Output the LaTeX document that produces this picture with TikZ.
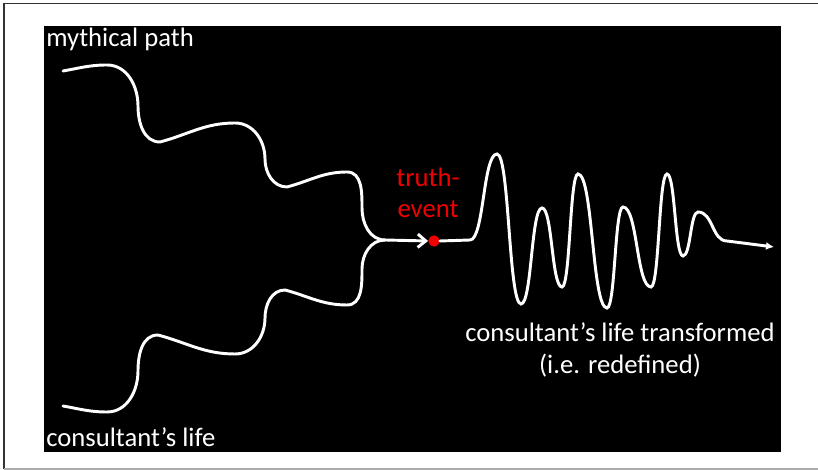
\documentclass[tikz,border=0pt]{standalone}
\usepackage{fontspec}
\setmainfont{Carlito}
\usepackage{tikz}
\usetikzlibrary{arrows.meta, positioning}
\definecolor{myred}{RGB}{240,0,0}
\definecolor{mydark}{RGB}{50,50,50}
\definecolor{mygrey}{RGB}{170,170,170}
\tikzset{
  wire/.style={white, line width=2.2pt, line cap=round},
  lbl/.style={text=white, font=\fontsize{20}{23.5}\selectfont, inner sep=0pt},
  redlbl/.style={text=myred, font=\fontsize{20}{23.5}\selectfont,
    align=center, inner sep=0pt},
  dot/.style={circle, fill=myred, inner sep=0pt, minimum size=8.5pt}
}

\begin{document}
\begin{tikzpicture}[x=0.75pt, y=0.75pt]
  \useasboundingbox (0,0) rectangle (818,470);

  % Frame and black slide
  \draw[mydark, line width=1.2pt] (4,1) -- (4,466.5) -- (818,466.5);
  \draw[mygrey, line width=1.2pt] (4,1) -- (818,1);
  \fill[black] (44,18) rectangle (781,444);

  % Labels
  \node[lbl, anchor=base west] (myth) at (46,423) {mythical path};
  \node[lbl, anchor=base west] (life) at (46,23) {consultant’s life};
  \node[redlbl] (event) at (428,277) {truth-\\event};
  \node[lbl, align=center] (transformed) at (620,120)
    {consultant’s life transformed\\(i.e. redefined)};

  % Truth-event and the point where both paths meet
  \node[dot] (truth) at (434,229) {};
  \coordinate (join) at (385,230);

  % Mythical path (stepping down)
  \draw[wire] (63,399) to[out=10,in=180] (107,405) to[out=0,in=90] (138,364)
    to[out=-90,in=180] (160,328) to[out=15,in=180] (235,347)
    to[out=0,in=90] (265,311) to[out=-90,in=180] (287,283)
    to[out=15,in=180] (347,298) to[out=0,in=90] (362,262)
    to[out=-90,in=180] (join);

  % Consultant's life (stepping up)
  \draw[wire] (63,64) to[out=-10,in=180] (107,58) to[out=0,in=-90] (138,99)
    to[out=90,in=180] (158,135) to[out=-15,in=180] (235,116)
    to[out=0,in=-90] (265,152) to[out=90,in=180] (285,180)
    to[out=-15,in=180] (347,165) to[out=0,in=-90] (362,201)
    to[out=90,in=180] (join);

  \draw[wire, -{Straight Barb[length=6pt, width=10pt]}] (join) -- (truth.west);

  % Life transformed: oscillation after the truth-event
  \draw[wire, -{Latex[length=6pt, width=6pt]}] (truth.east) -- (470,230)
    \foreach \x/\y [remember=\x as \lastx (initially 470)] in
      {497/316, 521/166, 542/262, 562/183, 578/296, 607/162,
       623/263, 651/183, 667/296, 683/214, 698/258, 727/229}
      { .. controls +({0.52*(\x-\lastx)},0) and +({-0.52*(\x-\lastx)},0) .. (\x,\y) }
    -- (774,223);
\end{tikzpicture}
\end{document}
